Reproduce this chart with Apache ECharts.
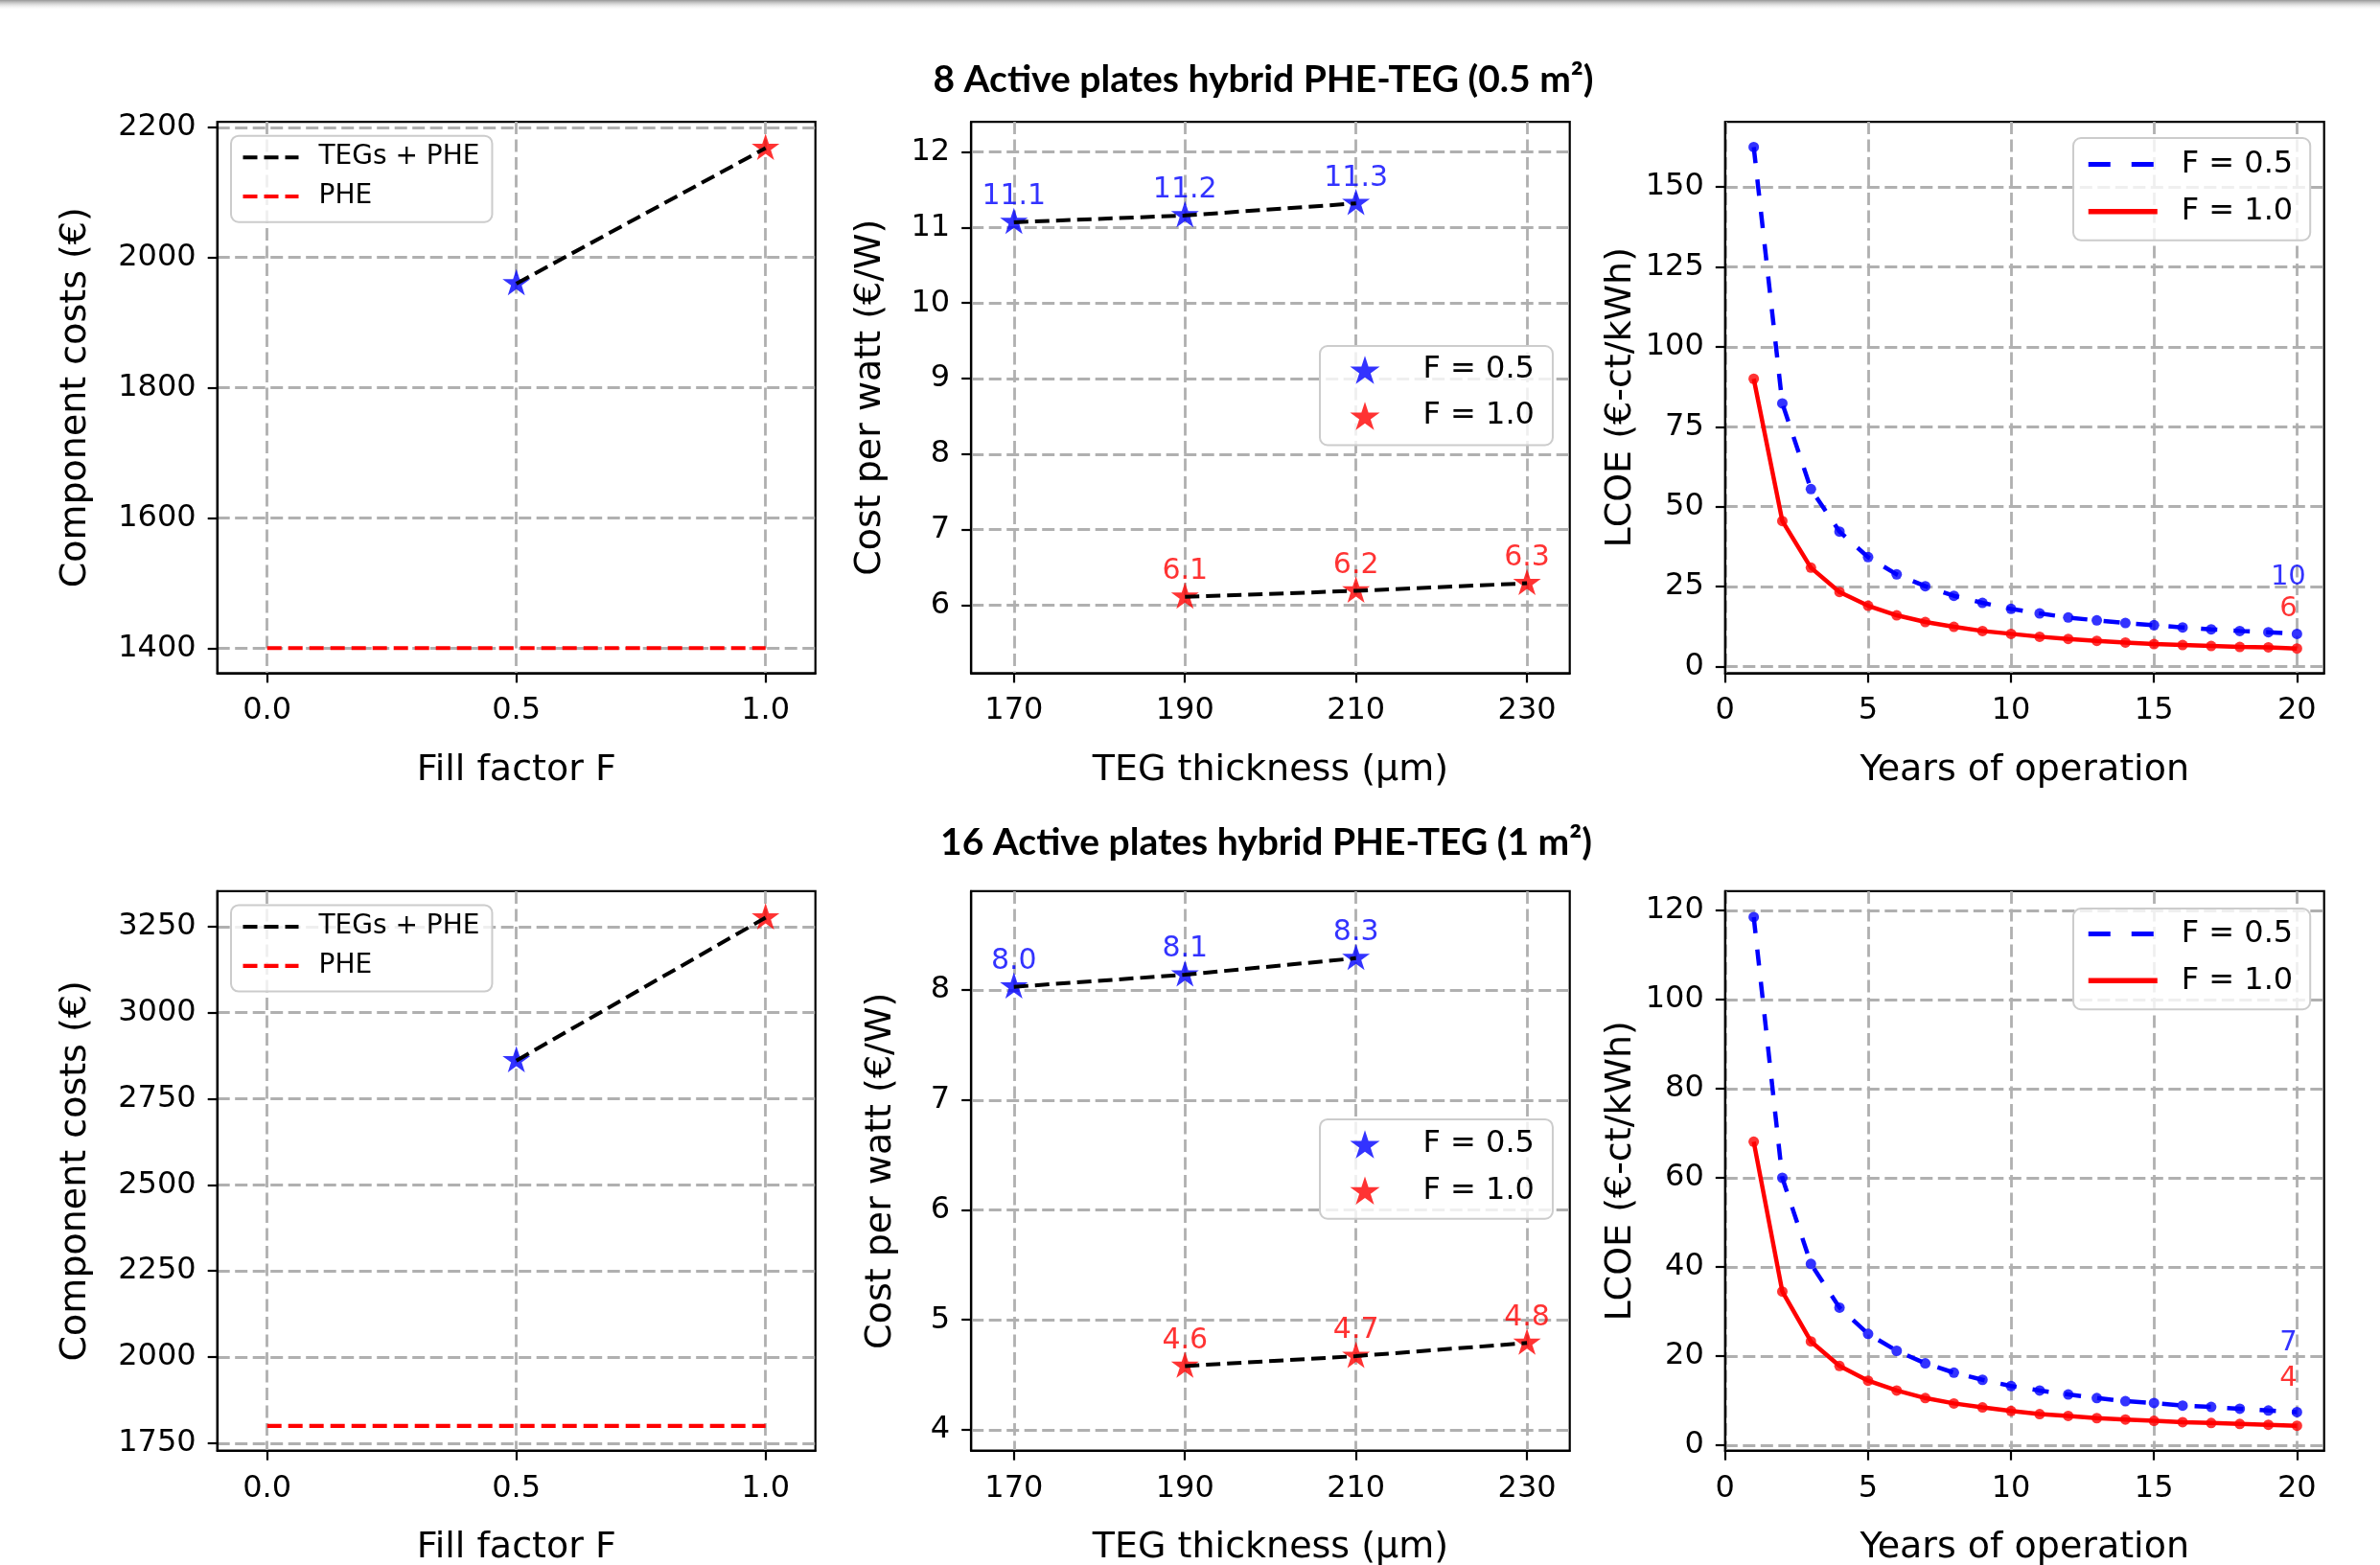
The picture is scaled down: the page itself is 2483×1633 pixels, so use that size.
<!DOCTYPE html>
<html><head><meta charset="utf-8">
<script src="https://cdn.jsdelivr.net/npm/echarts@6/dist/echarts.min.js"></script>
<style>html,body{margin:0;padding:0;background:#fff}#c{width:2483px;height:1633px}</style>
</head><body><div id="c"></div><script>
// ---------------- DATA ----------------
// Left column: component costs vs fill factor
const fillTicks = [0.0, 0.5, 1.0];
const fillFactors = [0.5, 1.0];
const pheRange = [0.0, 1.0];
const totalCostTop = [1960, 2168];
const pheCostTop = [1400, 1400];
const totalCostBottom = [2861, 3276];
const pheCostBottom = [1800, 1800];
const costTicksTop = [1400, 1600, 1800, 2000, 2200];
const costTicksBottom = [1750, 2000, 2250, 2500, 2750, 3000, 3250];

// Middle column: cost per watt vs TEG thickness
const thickTicks = [170, 190, 210, 230];
const thickF05 = [170, 190, 210];
const thickF10 = [190, 210, 230];
const cpwTopF05 = [11.07, 11.16, 11.32];
const cpwTopF10 = [6.11, 6.19, 6.29];
const cpwBottomF05 = [8.03, 8.14, 8.29];
const cpwBottomF10 = [4.58, 4.67, 4.79];
const cpwTicksTop = [6, 7, 8, 9, 10, 11, 12];
const cpwTicksBottom = [4, 5, 6, 7, 8];

// Right column: LCOE vs years of operation
const years = [1,2,3,4,5,6,7,8,9,10,11,12,13,14,15,16,17,18,19,20];
const yearTicks = [0, 5, 10, 15, 20];
const lcoeTopF05 = [162.5, 82.3, 55.5, 42.2, 34.2, 28.8, 25.1, 22.1, 19.9, 18.0, 16.6, 15.3, 14.4, 13.6, 12.9, 12.2, 11.6, 11.1, 10.7, 10.2];
const lcoeTopF10 = [90.0, 45.5, 30.9, 23.3, 19.0, 16.0, 13.9, 12.4, 11.1, 10.2, 9.3, 8.6, 8.0, 7.5, 7.0, 6.7, 6.4, 6.1, 6.0, 5.6];
const lcoeBottomF05 = [118.5, 60.0, 40.7, 30.9, 25.0, 21.2, 18.4, 16.3, 14.7, 13.3, 12.3, 11.4, 10.6, 9.9, 9.5, 8.9, 8.6, 8.2, 7.8, 7.45];
const lcoeBottomF10 = [68.1, 34.5, 23.3, 17.8, 14.5, 12.3, 10.6, 9.4, 8.5, 7.7, 7.0, 6.6, 6.1, 5.8, 5.5, 5.2, 5.0, 4.8, 4.6, 4.4];
const lcoeTicksTop = [0, 25, 50, 75, 100, 125, 150];
const lcoeTicksBottom = [0, 20, 40, 60, 80, 100, 120];
const endLabelsTop = ['10', '6'];
const endLabelsBottom = ['7', '4'];

const titleTop = '8 Active plates hybrid PHE-TEG (0.5 m\u00B2)';
const titleBottom = '16 Active plates hybrid PHE-TEG (1 m\u00B2)';

// ---------------- STYLE ----------------
const FONT = '"DejaVu Sans", sans-serif';
const BLUE = '#0000ff', RED = '#ff0000', BLACK = '#000000';
const STAR = 'path://M0,-100L22.45,-30.9L95.1,-30.9L36.3,11.8L58.8,80.9L0,38.2L-58.8,80.9L-36.3,11.8L-95.1,-30.9L-22.45,-30.9Z';
const DISPLAY = {'TEGs + PHE':'TEGs + PHE', 'PHE':'PHE', sF05:'F = 0.5', sF10:'F = 1.0', lF05:'F = 0.5', lF10:'F = 1.0'};

const gridPos = [
  {left: 226.7, top: 127.1, width: 624, height: 575.3},
  {left: 1013.2, top: 127.1, width: 624.5, height: 575.3},
  {left: 1799.8, top: 127.1, width: 624.9, height: 575.3},
  {left: 226.7, top: 929.9, width: 624, height: 583.8},
  {left: 1013.2, top: 929.9, width: 624.5, height: 583.8},
  {left: 1799.8, top: 929.9, width: 624.9, height: 583.8}
];
const grid = gridPos.map(g => Object.assign({show: true, borderColor: BLACK, borderWidth: 2.2,
  backgroundColor: 'transparent', containLabel: false, outerBoundsMode: 'none'}, g));

const GRIDLINE = {show: true, lineStyle: {color: '#b0b0b0', width: 2.8, type: [13, 5.5]}};

function axis(dim, gi, min, max, ticks, fmt, name, nameGap) {
  return {
    type: 'value', gridIndex: gi, min: min, max: max, scale: true,
    name: name, nameLocation: 'middle', nameGap: nameGap, nameRotate: dim === 'y' ? 90 : 0,
    nameMoveOverlap: false,
    nameTextStyle: {fontFamily: FONT, fontSize: 38, color: BLACK, lineHeight: 38},
    axisLine: {show: true, onZero: false, lineStyle: {color: BLACK, width: 2.2}},
    axisTick: {show: true, inside: false, length: 10, customValues: ticks, lineStyle: {color: BLACK, width: 2.2}},
    axisLabel: {show: true, customValues: ticks, formatter: fmt, margin: dim === 'y' ? 22 : 23.5,
      fontFamily: FONT, fontSize: 32, color: BLACK, lineHeight: 32, hideOverlap: false},
    splitLine: GRIDLINE
  };
}
const f1 = v => Number(v).toFixed(1);
const f0 = v => String(Math.round(v));

const xAxis = [
  axis('x', 0, -0.1, 1.1, fillTicks, f1, 'Fill factor F', 83),
  axis('x', 1, 165, 235, thickTicks, f0, 'TEG thickness (\u00B5m)', 83),
  axis('x', 2, 0, 20.95, yearTicks, f0, 'Years of operation', 83),
  axis('x', 3, -0.1, 1.1, fillTicks, f1, 'Fill factor F', 82),
  axis('x', 4, 165, 235, thickTicks, f0, 'TEG thickness (\u00B5m)', 82),
  axis('x', 5, 0, 20.95, yearTicks, f0, 'Years of operation', 82)
];
const yAxis = [
  axis('y', 0, 1361.5, 2208.5, costTicksTop, f0, 'Component costs (\u20AC)', 129),
  axis('y', 1, 5.1, 12.4, cpwTicksTop, f0, 'Cost per watt (\u20AC/W)', 86),
  axis('y', 2, -2.1, 170.4, lcoeTicksTop, f0, 'LCOE (\u20AC-ct/kWh)', 90),
  axis('y', 3, 1728, 3353, costTicksBottom, f0, 'Component costs (\u20AC)', 129),
  axis('y', 4, 3.81, 8.9, cpwTicksBottom, f0, 'Cost per watt (\u20AC/W)', 75),
  axis('y', 5, -1.2, 124.3, lcoeTicksBottom, f0, 'LCOE (\u20AC-ct/kWh)', 90)
];

const pairs = (xs, ys) => xs.map((x, i) => [x, ys[i]]);
const base = gi => ({xAxisIndex: gi, yAxisIndex: gi, silent: true, animation: false});
const STAR_SIZE = 29;

function costSeries(gi, total, phe) {
  return [
    Object.assign(base(gi), {type: 'scatter', name: 'costStars' + gi, symbol: STAR, symbolSize: STAR_SIZE,
      symbolKeepAspect: true, symbolOffset: [0, -1.4], z: 3,
      data: fillFactors.map((f, i) => ({value: [f, total[i]], itemStyle: {color: i === 0 ? BLUE : RED}}))}),
    Object.assign(base(gi), {type: 'line', name: 'TEGs + PHE', symbol: 'none', z: 5,
      data: pairs(fillFactors, total), itemStyle: {color: BLACK},
      lineStyle: {color: BLACK, width: 4, type: [15, 7]}}),
    Object.assign(base(gi), {type: 'line', name: 'PHE', symbol: 'none', z: 4,
      data: pairs(pheRange, phe), itemStyle: {color: RED},
      lineStyle: {color: RED, width: 4.2, type: [15, 7]}})
  ];
}
function cpwSeries(gi, v05, v10) {
  const lab = c => ({show: true, position: 'inside', offset: [0, -25], color: c, fontFamily: FONT, fontSize: 30,
    formatter: p => Number(p.value[1]).toFixed(1)});
  return [
    Object.assign(base(gi), {type: 'scatter', name: 'sF05', symbol: STAR, symbolSize: STAR_SIZE, symbolKeepAspect: true,
      symbolOffset: [0, -1.4], z: 3, itemStyle: {color: BLUE}, label: lab(BLUE), data: pairs(thickF05, v05)}),
    Object.assign(base(gi), {type: 'scatter', name: 'sF10', symbol: STAR, symbolSize: STAR_SIZE, symbolKeepAspect: true,
      symbolOffset: [0, -1.4], z: 3, itemStyle: {color: RED}, label: lab(RED), data: pairs(thickF10, v10)}),
    Object.assign(base(gi), {type: 'line', name: 'cpwLine05_' + gi, symbol: 'none', z: 5, data: pairs(thickF05, v05),
      lineStyle: {color: BLACK, width: 4, type: [15, 7]}}),
    Object.assign(base(gi), {type: 'line', name: 'cpwLine10_' + gi, symbol: 'none', z: 5, data: pairs(thickF10, v10),
      lineStyle: {color: BLACK, width: 4, type: [15, 7]}})
  ];
}
function lcoeSeries(gi, v05, v10, endLabels, offs) {
  const dots = (vals, c, txt, off) => vals.map((v, i) => {
    const item = {value: [years[i], v]};
    if (i === vals.length - 1) item.label = {show: true, formatter: txt, position: 'inside', offset: off,
      color: c, fontFamily: FONT, fontSize: 29};
    return item;
  });
  return [
    Object.assign(base(gi), {type: 'line', name: 'lF05', symbol: 'none', z: 3, data: pairs(years, v05),
      itemStyle: {color: BLUE}, lineStyle: {color: BLUE, width: 4.5, type: [17, 17]}}),
    Object.assign(base(gi), {type: 'line', name: 'lF10', symbol: 'none', z: 4, data: pairs(years, v10),
      itemStyle: {color: RED}, lineStyle: {color: RED, width: 4.5, type: 'solid'}}),
    Object.assign(base(gi), {type: 'scatter', name: 'dots05_' + gi, symbol: 'circle', symbolSize: 11, z: 5,
      itemStyle: {color: BLUE}, label: {show: false}, data: dots(v05, BLUE, endLabels[0], offs[0])}),
    Object.assign(base(gi), {type: 'scatter', name: 'dots10_' + gi, symbol: 'circle', symbolSize: 11, z: 6,
      itemStyle: {color: RED}, label: {show: false}, data: dots(v10, RED, endLabels[1], offs[1])})
  ];
}

const series = [].concat(
  costSeries(0, totalCostTop, pheCostTop),
  cpwSeries(1, cpwTopF05, cpwTopF10),
  lcoeSeries(2, lcoeTopF05, lcoeTopF10, endLabelsTop, [[-9, -59], [-9, -41]]),
  costSeries(3, totalCostBottom, pheCostBottom),
  cpwSeries(4, cpwBottomF05, cpwBottomF10),
  lcoeSeries(5, lcoeBottomF05, lcoeBottomF10, endLabelsBottom, [[-9, -72], [-9, -49]])
);

function legend(items, left, top, iw, ih, fs, pad, gap, textPad, hideSymbol) {
  const l = {show: true, orient: 'vertical', left: left, top: top, data: items, itemWidth: iw, itemHeight: ih,
    itemGap: gap, padding: pad, align: 'left', selectedMode: false,
    backgroundColor: 'rgba(255,255,255,0.8)', borderColor: '#cccccc', borderWidth: 2, borderRadius: 8,
    formatter: n => DISPLAY[n],
    textStyle: {fontFamily: FONT, fontSize: fs, color: BLACK, lineHeight: fs, padding: [0, 0, 0, textPad]}};
  if (hideSymbol) l.itemStyle = {opacity: 0, borderWidth: 0};
  return l;
}
const costLegendItems = [
  {name: 'TEGs + PHE', lineStyle: {width: 4, type: [15, 7]}},
  {name: 'PHE', lineStyle: {width: 4.2, type: [15, 7]}}
];
const lcoeLegendItems = [
  {name: 'lF05', lineStyle: {width: 5, type: [23, 22]}},
  {name: 'lF10', lineStyle: {width: 5.5, type: 'solid'}}
];
const legends = [
  legend(costLegendItems, 241, 141.7, 58, 14, 28, [8.5, 13, 12.7, 10.4], 12.8, 16, true),
  legend(['sF05', 'sF10'], 1377, 361, 31, 31, 32, [9, 19, 14.5, 31.5], 16, 40, false),
  legend(lcoeLegendItems, 2163, 144, 72, 14, 32, [11.5, 18, 14, 13], 17.2, 20, true),
  legend(costLegendItems, 241, 944.4, 58, 14, 28, [8.5, 13, 12.7, 10.4], 13, 16, true),
  legend(['sF05', 'sF10'], 1377, 1167.9, 31, 31, 32, [10, 19, 13.5, 31.5], 16.3, 40, false),
  legend(lcoeLegendItems, 2163, 948.1, 72, 14, 32, [10.4, 18, 14, 13], 16.7, 20, true)
];

const TFONT = 'bold 39px Lato, "Open Sans", sans-serif';
const graphic = [
  {type: 'rect', left: 0, top: 0, shape: {width: 2483, height: 11}, silent: true,
    style: {fill: {type: 'linear', x: 0, y: 0, x2: 0, y2: 1, colorStops: [
      {offset: 0, color: 'rgba(150,150,150,1)'}, {offset: 1, color: 'rgba(255,255,255,0)'}]}}},
  {type: 'text', x: 1318, y: 83.7, silent: true,
    style: {text: titleTop, font: TFONT, fill: BLACK, textAlign: 'center', textVerticalAlign: 'middle'}},
  {type: 'text', x: 1321, y: 879.6, silent: true,
    style: {text: titleBottom, font: TFONT, fill: BLACK, textAlign: 'center', textVerticalAlign: 'middle'}}
];

const chart = echarts.init(document.getElementById('c'), null, {renderer: 'canvas', width: 2483, height: 1633});
chart.setOption({
  animation: false, backgroundColor: '#ffffff',
  grid: grid, xAxis: xAxis, yAxis: yAxis, series: series, legend: legends, graphic: graphic
});
</script></body></html>
